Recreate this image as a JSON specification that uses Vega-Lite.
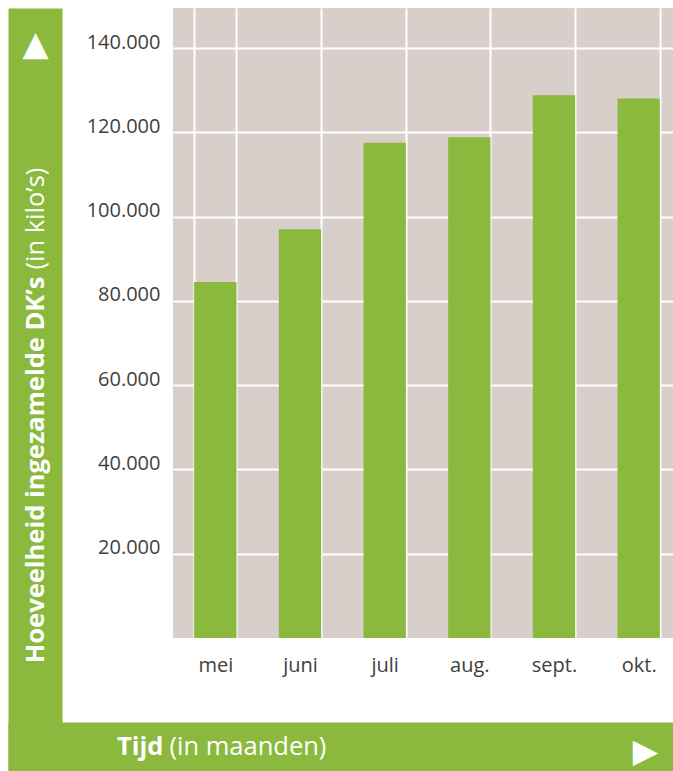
{
  "$schema": "https://vega.github.io/schema/vega-lite/v6.json",
  "width": 500,
  "height": 630,
  "autosize": {"type": "none"},
  "padding": {"left": 173, "top": 8, "right": 0, "bottom": 133},
  "background": "white",
  "config": {"view": {"fill": "#d8cfcb", "stroke": null}, "font": "Open Sans"},
  "resolve": {"scale": {"x": "independent", "y": "independent"}},
  "layer": [
    {
      "data": {"values": [
        {"maand": "mei", "kilo": 84500},
        {"maand": "juni", "kilo": 97000},
        {"maand": "juli", "kilo": 117500},
        {"maand": "aug.", "kilo": 118800},
        {"maand": "sept.", "kilo": 128800},
        {"maand": "okt.", "kilo": 128000}
      ]},
      "mark": {"type": "bar", "color": "#8ab93e"},
      "encoding": {
        "x": {"field": "maand", "type": "nominal", "sort": null,
          "scale": {"range": [0, 508], "paddingInner": 0.5, "paddingOuter": 0.25},
          "axis": {"orient": "bottom", "title": null, "domain": false, "ticks": false, "tickSize": 0, "grid": true, "gridColor": "white", "gridWidth": 2, "tickBand": "extent", "labelAngle": 0, "labelFontSize": 20, "labelColor": "#3f3f3f", "labelPadding": 17, "labelFont": "Open Sans", "zindex": 0}},
        "y": {"field": "kilo", "type": "quantitative",
          "scale": {"domain": [0, 149500], "nice": false, "zero": true},
          "axis": {"orient": "left", "title": null, "values": [20000, 40000, 60000, 80000, 100000, 120000, 140000], "labelExpr": "replace(format(datum.value, ','), ',', '.')", "domain": false, "ticks": false, "tickSize": 0, "grid": true, "gridColor": "white", "gridWidth": 2, "labelFontSize": 20, "labelColor": "#3f3f3f", "labelPadding": 13, "labelBaseline": "alphabetic", "labelFont": "Open Sans", "zindex": 0}}
      }
    },
    {
      "data": {"values": [{}]},
      "mark": {"type": "point", "opacity": 0},
      "encoding": {
        "y": {"datum": 0, "type": "quantitative",
          "scale": {"domain": [0, 763], "range": [763, 0], "nice": false, "zero": false},
          "axis": {"orient": "left", "offset": 138, "domain": true, "domainColor": "#8ab93e", "domainWidth": 54, "ticks": false, "tickSize": 0, "labels": false, "grid": false, "title": "Hoeveelheid ingezamelde DK’s", "titleFont": "Open Sans", "titleFontWeight": "bold", "titleFontSize": 25.5, "titleColor": "white", "titleAngle": 270, "titleAlign": "right", "titleBaseline": "middle", "titleX": 0, "titleY": 268, "zindex": 1}}
      }
    },
    {
      "data": {"values": [{}]},
      "mark": {"type": "point", "opacity": 0},
      "encoding": {
        "y": {"datum": 0, "type": "quantitative",
          "scale": {"domain": [0, 763], "range": [763, 0], "nice": false, "zero": false},
          "axis": {"orient": "left", "offset": 138, "domain": false, "ticks": false, "tickSize": 0, "labels": true, "grid": false, "values": [727], "labelExpr": "'▲'", "labelFont": "DejaVu Sans", "labelFontSize": 34, "labelColor": "white", "labelAlign": "center", "labelBaseline": "middle", "labelPadding": 0, "title": "(in kilo’s)", "titleFont": "Open Sans", "titleFontWeight": "normal", "titleFontSize": 25.5, "titleColor": "white", "titleAngle": 270, "titleAlign": "left", "titleBaseline": "middle", "titleX": 0, "titleY": 261, "zindex": 2}}
      }
    },
    {
      "data": {"values": [{}]},
      "mark": {"type": "point", "opacity": 0},
      "encoding": {
        "x": {"datum": 0, "type": "quantitative",
          "scale": {"domain": [-165, 500], "range": [-165, 500], "nice": false, "zero": false},
          "axis": {"orient": "bottom", "offset": 108.5, "domain": true, "domainColor": "#8ab93e", "domainWidth": 49, "ticks": false, "tickSize": 0, "labels": false, "grid": false, "title": "Tijd", "titleFont": "Open Sans", "titleFontWeight": "bold", "titleFontSize": 25.5, "titleColor": "white", "titleAngle": 0, "titleAlign": "right", "titleBaseline": "middle", "titleX": -10, "titleY": 0, "zindex": 1}}
      }
    },
    {
      "data": {"values": [{}]},
      "mark": {"type": "point", "opacity": 0},
      "encoding": {
        "x": {"datum": 0, "type": "quantitative",
          "scale": {"domain": [-165, 500], "range": [-165, 500], "nice": false, "zero": false},
          "axis": {"orient": "bottom", "offset": 108.5, "domain": false, "ticks": false, "tickSize": 0, "labels": true, "grid": false, "values": [472], "labelExpr": "'▶'", "labelFont": "DejaVu Sans", "labelFontSize": 33, "labelColor": "white", "labelAlign": "center", "labelBaseline": "middle", "labelPadding": 5, "title": "(in maanden)", "titleFont": "Open Sans", "titleFontWeight": "normal", "titleFontSize": 25.5, "titleColor": "white", "titleAngle": 0, "titleAlign": "left", "titleBaseline": "middle", "titleX": -4, "titleY": 0, "zindex": 2}}
      }
    }
  ]
}
